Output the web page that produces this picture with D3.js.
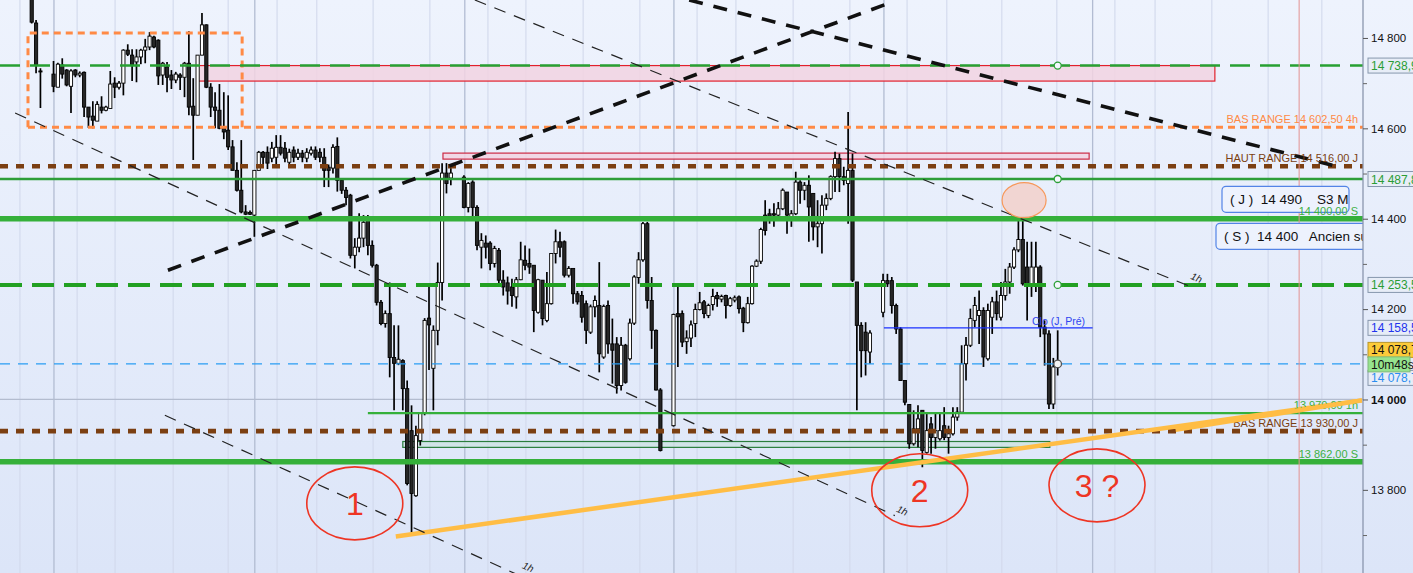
<!DOCTYPE html>
<html><head><meta charset="utf-8">
<script src="https://cdn.jsdelivr.net/npm/d3@7/dist/d3.min.js"></script>
<style>
html,body{margin:0;padding:0;overflow:hidden;background:#e8eefb;}
svg{display:block;font-family:"Liberation Sans",Arial,Helvetica,sans-serif;}
</style></head><body>
<svg id="chart" width="1413" height="573"></svg>
<script>
// ---------- DATA ----------
// candles: [open, high, low, close] per bar index (null = no bar)
const candles = [
[14895,14915,14832,14835],[14833,14840,14722,14740],[14727,14733,14645,14725],null,null,
[14720,14749,14680,14693],[14691,14745,14691,14742],[14740,14755,14710,14720],[14729,14731,14693,14696],[14693,14731,14634,14727],
[14729,14731,14713,14718],[14718,14726,14713,14722],[14724,14726,14625,14647],[14647,14647,14601,14625],[14627,14660,14600,14618],
[14616,14660,14616,14653],[14647,14671,14633,14640],[14640,14650,14638,14647],[14644,14727,14644,14698],[14700,14713,14667,14691],
[14691,14705,14686,14700],[14700,14775,14673,14773],[14773,14786,14760,14764],[14762,14775,14705,14740],[14747,14775,14702,14758],
[14758,14776,14742,14773],[14773,14798,14744,14780],[14780,14813,14773,14804],[14802,14805,14777,14780],[14795,14797,14696,14716],
[14718,14747,14696,14744],[14736,14747,14680,14713],[14718,14729,14687,14707],[14707,14725,14700,14720],[14718,14722,14685,14713],
[14713,14747,14669,14744],[14744,14815,14629,14647],[14649,14711,14530,14629],[14629,14762,14629,14762],[14762,14855,14762,14829],
[14829,14830,14689,14691],[14691,14700,14625,14647],[14647,14680,14600,14640],[14640,14698,14598,14600],[14603,14680,14576,14592],
[14596,14673,14552,14559],[14559,14574,14507,14507],[14507,14525,14460,14463],[14463,14574,14412,14415],[14415,14430,14408,14410],
[14414,14418,14408,14410],[14408,14507,14360,14507],[14507,14550,14507,14547],[14547,14550,14516,14536],[14547,14560,14510,14523],
[14534,14570,14525,14556],[14536,14585,14520,14558],[14558,14585,14540,14545],[14556,14570,14525,14534],[14525,14555,14520,14547],
[14552,14560,14525,14536],[14536,14555,14530,14545],[14545,14552,14525,14536],[14534,14556,14525,14547],[14545,14560,14540,14552],
[14552,14560,14530,14536],[14547,14556,14525,14536],[14536,14556,14470,14507],[14514,14520,14470,14507],[14512,14565,14500,14558],
[14560,14580,14460,14485],[14485,14490,14455,14463],[14463,14470,14430,14447],[14452,14455,14312,14319],[14319,14357,14290,14337],
[14337,14412,14326,14357],[14357,14408,14337,14392],[14403,14408,14319,14341],[14341,14352,14292,14297],[14297,14300,14208,14215],
[14215,14220,14164,14168],[14168,14197,14159,14190],[14190,14259,14049,14093],[14093,14164,13976,14080],[14080,14164,14076,14089],
[14086,14089,13976,14024],[14024,14042,13810,13814],[13931,13987,13705,13792],[13787,13942,13785,13920],[13909,13972,13898,13969],
[13969,14180,13965,14175],[14180,14250,14065,14165],[14069,14164,13976,14153],[14153,14303,14120,14259],[14259,14523,14219,14501],
[14501,14523,14456,14478],[14490,14512,14474,14501],null,null,[14492,14496,14423,14425],
[14425,14481,14414,14478],[14481,14485,14397,14425],[14425,14430,14330,14341],[14337,14368,14290,14352],[14346,14363,14312,14337],
[14346,14350,14286,14301],[14301,14340,14292,14334],[14330,14335,14257,14264],[14264,14286,14230,14249],[14258,14272,14210,14240],
[14249,14267,14205,14230],[14227,14271,14201,14265],[14265,14349,14264,14309],[14308,14341,14286,14297],[14301,14334,14278,14293],
[14297,14297,14149,14197],[14193,14267,14190,14265],[14264,14264,14164,14179],[14175,14282,14171,14212],[14212,14323,14210,14323],
[14323,14376,14301,14349],[14349,14371,14315,14337],[14349,14352,14270,14275],[14275,14295,14270,14290],[14290,14290,14212,14234],
[14234,14240,14210,14216],[14230,14240,14170,14182],[14212,14219,14123,14153],[14149,14210,14145,14205],[14205,14230,14182,14219],
[14208,14304,14060,14101],[14094,14210,14090,14206],[14208,14219,14101,14123],[14123,14179,14035,14109],[14123,14138,14013,14031],
[14031,14138,14020,14120],[14120,14123,14035,14038],[14090,14179,14086,14169],[14169,14275,14165,14271],[14270,14326,14256,14309],
[14309,14393,14305,14389],[14389,14393,14201,14219],[14219,14271,14112,14153],[14153,14155,14020,14021],[14021,14025,13885,13887],
null,null,[13942,14190,13940,14188],[14190,14249,14072,14183],[14190,14197,14116,14127],
[14128,14153,14101,14136],[14136,14175,14116,14165],[14168,14212,14138,14199],[14199,14238,14197,14214],[14216,14220,14180,14190],
[14186,14212,14180,14208],[14210,14245,14197,14228],[14230,14238,14205,14223],[14222,14232,14215,14228],[14230,14232,14179,14208],
[14208,14227,14205,14223],[14220,14230,14215,14225],[14227,14230,14190,14201],[14202,14205,14149,14170],[14170,14227,14168,14212],
[14212,14297,14210,14295],[14295,14310,14293,14306],[14306,14380,14300,14376],[14408,14441,14363,14374],[14411,14422,14389,14404],
[14411,14434,14382,14408],[14408,14437,14400,14422],[14422,14467,14419,14463],[14459,14459,14367,14408],[14404,14419,14382,14411],
[14411,14504,14408,14481],[14481,14485,14433,14463],[14463,14481,14441,14474],[14474,14496,14349,14426],[14456,14456,14352,14382],
[14382,14441,14337,14389],[14389,14452,14323,14430],[14430,14456,14419,14445],[14445,14496,14441,14493],[14493,14548,14459,14533],
[14533,14544,14459,14493],[14493,14515,14474,14485],[14478,14636,14389,14507],[14507,14544,14260,14264],[14260,14260,13976,14164],
[14164,14171,14049,14108],[14149,14171,14053,14108],[14105,14153,14079,14147],null,null,
[14193,14278,14182,14263],[14263,14278,14249,14256],[14263,14271,14190,14208],[14208,14212,14145,14156],[14156,14160,14042,14042],
[14042,14042,13987,13994],[13989,13990,13891,13902],[13902,13976,13898,13935],[13935,13987,13894,13957],[13976,13976,13850,13887],
[13883,13968,13880,13931],[13946,13961,13880,13916],[13916,13968,13891,13931],[13913,13972,13909,13931],[13942,13983,13910,13916],
[13916,13942,13880,13924],[13924,13983,13920,13961],[13961,13983,13953,13972],[13972,14120,13972,14079],[14079,14138,14042,14120],
[14120,14201,14116,14179],[14175,14227,14160,14208],[14186,14241,14123,14197],[14197,14204,14072,14094],[14090,14212,14086,14197],
[14182,14227,14145,14216],[14216,14241,14175,14190],[14182,14260,14175,14230],[14230,14289,14219,14260],[14260,14302,14234,14293],
[14293,14337,14289,14331],[14331,14397,14326,14354],[14354,14400,14252,14256],[14293,14349,14175,14252],[14252,14349,14227,14293],
[14252,14349,14238,14293],[14293,14297,14138,14160],[14160,14175,14075,14145],[14145,14153,13979,13990],[13990,14092,13979,14072],
[14072,14153,14053,14078.75]
];
const lastBar = candles.length - 1;
const currentPrice = 14078.75;

const priceTicks = [14800, 14600, 14400, 14200, 14000, 13800];
const priceTickLabels = ["14 800", "14 600", "14 400", "14 200", "14 000", "13 800"];
const minorPriceTicks = [14700, 14500, 14300, 14100, 13900, 13700];

// time grid (bar index) : hourly lines and session separators
const hourGridBars = [-2.7, 10.4, 19.1, 32.4, 45, 56.2, 65.3, 78.2, 91.2, 104.5, 113.2, 126.3, 139.3, 152.4, 161.3, 174.4, 187.4, 200.5, 209.6, 222.2, 234.8, 248.1, 257.3, 270.3, 283.2, 295.5];
const sessionGridBars = [5.1, 51.1, 99.2, 147.1, 195.2, 243];
const cursorBar = 290.3;

// horizontal levels
const levelValues = [14738.9, 14602.5, 14516, 14487.87, 14400, 14253.5, 14158.5, 14078.75, 13970, 13930, 13862];
const levelTexts  = ["", "BAS RANGE 14 602,50 4h", "HAUT RANGE 14 516,00 J", "", "14 400,00 S", "", "Clo (J, Pré)", "", "13 970,00 1h", "BAS RANGE 13 930,00 J", "13 862,00 S"];
const levelFromBar = [null, -0.85, null, null, null, null, 195.2, null, 77, null, null];
const levelToBar   = [null, null, null, null, null, null, 243, null, null, null, null];
const levelMarkers = [14738.9, 14487.87, 14253.5];

// zones [barStart, barEnd, priceLow, priceHigh]
const rangeBox   = [-0.85, 48.2, 14602.5, 14811];
const pinkZone   = [37.9, 271, 14704.6, 14738.9];
const thinZone   = [94.2, 242.2, 14531.9, 14545.2];
const greenZone  = [85, 233.2, 13894, 13907];

// trend lines [[bar, price],[bar, price]]
const thickUp   = [[31.2, 14286], [196.6, 14878]];
const thickDown = [[150.6, 14884], [299.6, 14514]];
const channel1h = [[[-3.8, 14634], [197.7, 13743]], [[101.5, 14884], [266.4, 14246]], [[30.5, 13965], [114.1, 13600]]];
const goldLine  = [[83.4, 13697], [304.7, 13998]];

// annotations
const circleNotes = [{bar: 74.0, price: 13770, text: "1"}, {bar: 203.4, price: 13799, text: "2"}, {bar: 244, price: 13810, text: "3 ?"}];
const resistanceSpot = {bar: 227.3, price: 14441};
const noteBoxes = [{price: 14443, text: "( J )  14 490    S3 M"}, {price: 14361, text: "( S )  14 400   Ancien support"}];

const tagValues = [14738.9, 14487.87, 14253.5, 14158.5];
const tagTexts  = ["14 738,90", "14 487,87", "14 253,50", "14 158,50"];
const currentText = "14 078,75";
const countdownText = "10m48s";

// ---------- RENDER ----------
const W = 1413, H = 573, plotRight = 1363;
const x = d3.scaleLinear().domain([0, lastBar]).range([31.7, 1057.7]);
const y = d3.scaleLinear().domain([13616, 14884]).range([H, 0]);

const svg = d3.select("#chart");
const defs = svg.append("defs");
const grad = defs.append("linearGradient").attr("id", "bg").attr("x1", 0).attr("y1", 0).attr("x2", 0).attr("y2", 1);
grad.append("stop").attr("offset", "0%").attr("stop-color", "#eef3fd");
grad.append("stop").attr("offset", "100%").attr("stop-color", "#dce5f8");
defs.append("clipPath").attr("id", "plotClip").append("rect").attr("x", 0).attr("y", 0).attr("width", plotRight).attr("height", H);

svg.append("rect").attr("width", W).attr("height", H).attr("fill", "url(#bg)");
const plot = svg.append("g").attr("clip-path", "url(#plotClip)");

// vertical grid
plot.selectAll("line.hg").data(hourGridBars).join("line")
  .attr("x1", d => x(d)).attr("x2", d => x(d)).attr("y1", 0).attr("y2", H)
  .attr("stroke", "#d2d9ec").attr("stroke-width", 1.1);
plot.selectAll("line.sg").data(sessionGridBars).join("line")
  .attr("x1", d => x(d)).attr("x2", d => x(d)).attr("y1", 0).attr("y2", H)
  .attr("stroke", "#b2bcd2").attr("stroke-width", 1.3);

// gray 14000 line
plot.append("line").attr("x1", 0).attr("x2", plotRight).attr("y1", y(14000)).attr("y2", y(14000))
  .attr("stroke", "#b3bccf").attr("stroke-width", 1.3);

// zones
function zone(z, fill, stroke, sw) {
  plot.append("rect").attr("x", x(z[0])).attr("width", x(z[1]) - x(z[0]))
    .attr("y", y(z[3])).attr("height", y(z[2]) - y(z[3]))
    .attr("fill", fill).attr("stroke", stroke).attr("stroke-width", sw);
}
zone(pinkZone, "rgba(242,212,226,0.85)", "#e1202c", 1.2);
zone(thinZone, "rgba(242,212,226,0.85)", "#cc2a45", 1.2);
zone(greenZone, "rgba(205,226,226,0.8)", "#2a7d3c", 1.2);

// candles
const bars = candles.map((c, i) => c ? {i, o: c[0], h: c[1], l: c[2], c: c[3]} : null).filter(d => d);
plot.selectAll("line.wick").data(bars).join("line")
  .attr("x1", d => x(d.i)).attr("x2", d => x(d.i))
  .attr("y1", d => y(d.h)).attr("y2", d => y(d.l))
  .attr("stroke", "#000").attr("stroke-width", 1.7);
plot.selectAll("rect.body").data(bars).join("rect")
  .attr("x", d => x(d.i) - 1.6).attr("width", 3.2)
  .attr("y", d => y(Math.max(d.o, d.c)))
  .attr("height", d => Math.max(1, Math.abs(y(d.o) - y(d.c))))
  .attr("fill", d => d.c >= d.o ? "#ffffff" : "#262626")
  .attr("stroke", "#000").attr("stroke-width", 0.9);

// orange range box (top and sides)
plot.append("path")
  .attr("d", `M${x(rangeBox[0])},${y(rangeBox[2])}V${y(rangeBox[3])}H${x(rangeBox[1])}V${y(rangeBox[2])}`)
  .attr("fill", "none").attr("stroke", "#ff8a45").attr("stroke-width", 3).attr("stroke-dasharray", "7,5");

// horizontal levels
const levelStyle = [
  {c: "#27a032", w: 2.6, d: "20,10"},
  {c: "#ff8a45", w: 3, d: "7,5"},
  {c: "#7b3f12", w: 4.6, d: "8,8"},
  {c: "#2d9e38", w: 2.4, d: null},
  {c: "#35b03a", w: 5.5, d: null},
  {c: "#22a022", w: 4, d: "22,10"},
  {c: "#1a30ff", w: 1.3, d: null},
  {c: "#2a9df4", w: 1.2, d: "10,8"},
  {c: "#35b03a", w: 2.2, d: null},
  {c: "#7b3f12", w: 4.6, d: "8,8"},
  {c: "#35b03a", w: 5.5, d: null}
];
levelValues.forEach((v, k) => {
  const s = levelStyle[k];
  const x1 = levelFromBar[k] == null ? 0 : x(levelFromBar[k]);
  const x2 = levelToBar[k] == null ? plotRight : x(levelToBar[k]);
  const ln = plot.append("line").attr("x1", x1).attr("x2", x2).attr("y1", y(v)).attr("y2", y(v))
    .attr("stroke", s.c).attr("stroke-width", s.w);
  if (s.d) ln.attr("stroke-dasharray", s.d);
});

// cursor vertical line
plot.append("line").attr("x1", x(cursorBar)).attr("x2", x(cursorBar)).attr("y1", 0).attr("y2", H)
  .attr("stroke", "#e39191").attr("stroke-width", 1);

// trend lines
const lineGen = d3.line().x(d => x(d[0])).y(d => y(d[1]));
plot.append("path").attr("d", lineGen(goldLine)).attr("fill", "none")
  .attr("stroke", "#ffbd45").attr("stroke-width", 4.5);
[thickUp, thickDown].forEach(seg => {
  plot.append("path").attr("d", lineGen(seg)).attr("fill", "none")
    .attr("stroke", "#111").attr("stroke-width", 3.6).attr("stroke-dasharray", "14,11");
});
channel1h.forEach(seg => {
  plot.append("path").attr("d", lineGen(seg)).attr("fill", "none")
    .attr("stroke", "#222").attr("stroke-width", 1.2).attr("stroke-dasharray", "12,9");
});
// "1h" labels near the end of each channel line
const oneHPos = [[197.9, 13752, 24], [265.3, 14267, 22], [112.2, 13627, 24]];
oneHPos.forEach(p => {
  plot.append("text").attr("transform", `translate(${x(p[0])},${y(p[1])}) rotate(${p[2]})`)
    .attr("font-size", 10).attr("font-style", "italic").attr("fill", "#222").text("1h");
});

// resistance spot
plot.append("ellipse").attr("cx", x(resistanceSpot.bar)).attr("cy", y(resistanceSpot.price))
  .attr("rx", 22).attr("ry", 17.5).attr("fill", "rgba(242,210,205,0.9)").attr("stroke", "#f7985a").attr("stroke-width", 1.2);

// numbered circles
circleNotes.forEach(n => {
  plot.append("ellipse").attr("cx", x(n.bar)).attr("cy", y(n.price)).attr("rx", 48).attr("ry", 36.5)
    .attr("fill", "none").attr("stroke", "#ee3524").attr("stroke-width", 1.6);
  plot.append("text").attr("x", x(n.bar)).attr("y", y(n.price) + 12).attr("text-anchor", "middle")
    .attr("font-size", 32).attr("fill", "#ee3524").text(n.text);
});

// markers on levels
levelMarkers.forEach(v => {
  plot.append("circle").attr("cx", x(lastBar)).attr("cy", y(v)).attr("r", 3.5)
    .attr("fill", "#f4f7fd").attr("stroke", "#2da038").attr("stroke-width", 1.3);
});
plot.append("circle").attr("cx", x(lastBar)).attr("cy", y(currentPrice)).attr("r", 3.8)
  .attr("fill", "#f4f4f4").attr("stroke", "#555").attr("stroke-width", 1.3);

// note boxes
noteBoxes.forEach((b, k) => {
  const bx = k === 0 ? 1222 : 1216, bw = k === 0 ? 127 : 170;
  plot.append("rect").attr("x", bx).attr("y", y(b.price) - 13).attr("width", bw).attr("height", 26).attr("rx", 4)
    .attr("fill", "#edf2fd").attr("stroke", "#5384e6").attr("stroke-width", 1.2);
  plot.append("text").attr("x", bx + 8).attr("y", y(b.price) + 5).attr("font-size", 13.5)
    .attr("fill", "#111").attr("xml:space", "preserve").style("white-space", "pre").text(b.text);
});

// level texts
const levelTextColor = ["", "#ff8a45", "#7b3f12", "", "#3cb043", "", "#2f45f0", "", "#3cb043", "#7b3f12", "#3cb043"];
levelValues.forEach((v, k) => {
  if (!levelTexts[k]) return;
  if (k === 6) {
    plot.append("text").attr("x", 1032).attr("y", y(v) - 3).attr("font-size", 10.5)
      .attr("fill", levelTextColor[k]).text(levelTexts[k]);
  } else {
    plot.append("text").attr("x", 1358).attr("y", y(v) - 4).attr("text-anchor", "end")
      .attr("font-size", 11).attr("fill", levelTextColor[k]).text(levelTexts[k]);
  }
});
// gold line on top of label region
plot.append("path").attr("d", lineGen([[262, 13933], goldLine[1]])).attr("fill", "none")
  .attr("stroke", "#ffbd45").attr("stroke-width", 4.5);

// ---------- AXIS ----------
svg.append("line").attr("x1", plotRight).attr("x2", plotRight).attr("y1", 0).attr("y2", H)
  .attr("stroke", "#8a96ae").attr("stroke-width", 1.3);
const yAxis = d3.axisRight(y).tickValues(priceTicks).tickSize(5).tickFormat((d, i) => priceTickLabels[i]);
const axG = svg.append("g").attr("transform", `translate(${plotRight},0)`).call(yAxis);
axG.select(".domain").remove();
axG.selectAll(".tick line").attr("stroke", "#555");
axG.selectAll(".tick text").attr("font-size", 11.5).attr("fill", "#111").attr("x", 8)
  .attr("font-family", "'Liberation Sans',Arial,sans-serif")
  .attr("font-weight", d => d === 14000 ? "bold" : "normal");
const minorAxis = d3.axisRight(y).tickValues(minorPriceTicks).tickSize(4).tickFormat("");
const mG = svg.append("g").attr("transform", `translate(${plotRight},0)`).call(minorAxis);
mG.select(".domain").remove();
mG.selectAll(".tick line").attr("stroke", "#666");

// price tags
const tagColor = ["#2a9d35", "#2a9d35", "#2a9d35", "#2233ee"];
function tag(cy, text, fill, stroke, color, w) {
  svg.append("rect").attr("x", 1368).attr("y", cy - 7.5).attr("width", w).attr("height", 15)
    .attr("fill", fill).attr("stroke", stroke).attr("stroke-width", 1);
  svg.append("text").attr("x", 1371).attr("y", cy + 4.5).attr("font-size", 12).attr("fill", color).text(text);
}
tagValues.forEach((v, k) => tag(y(v), tagTexts[k], "#e7edf7", "#8797ad", tagColor[k], 60));
tag(y(currentPrice) + 14, currentText, "#e7edf7", "#8797ad", "#2a8df0", 60);
tag(y(currentPrice) - 14, currentText, "#fccb3a", "#b8952a", "#111", 60);
tag(y(currentPrice) + 0.5, countdownText, "#96e38e", "#7fb878", "#111", 42);
</script>
</body></html>
